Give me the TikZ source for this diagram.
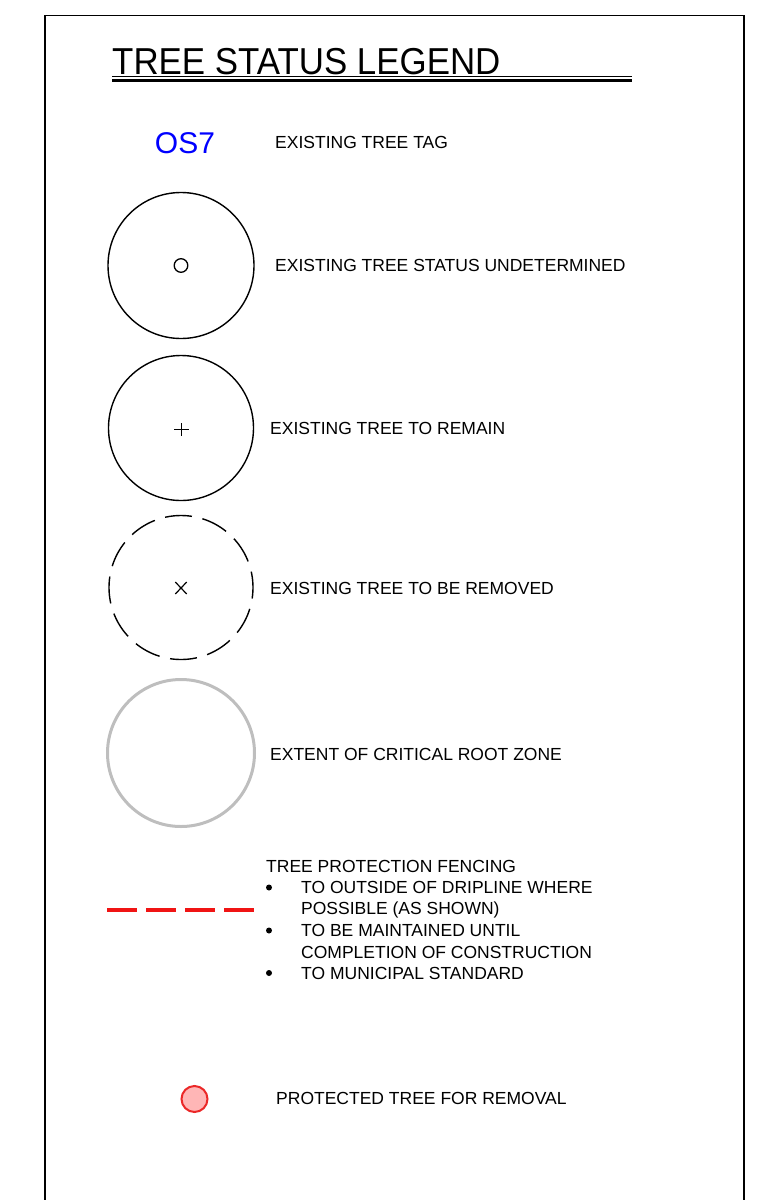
\documentclass[tikz,border=0pt]{standalone}
\usepackage{fontspec}
\setmainfont{Liberation Sans}
\definecolor{tagblue}{RGB}{0,0,255}
\definecolor{rootgray}{RGB}{190,190,190}
\definecolor{fencered}{RGB}{240,20,20}
\definecolor{pinkfill}{RGB}{255,182,182}
\definecolor{pinkedge}{RGB}{235,40,40}
\begin{document}
\begin{tikzpicture}[x=1pt,y=-1pt,
  lbl/.style={inner sep=0pt, anchor=base west, font=\fontsize{17.5}{21}\selectfont},
  treecircle/.style={draw=black, line width=1.4pt},
  frameline/.style={draw=black, line width=1.4pt},
  bulletdot/.style={fill=black, draw=none}]
\useasboundingbox (0,0) rectangle (762,1200);
% frame
\draw[frameline] (45,1200) -- (45,15.5) -- (744,15.5) -- (744,1200);
% title
\node[inner sep=0pt, anchor=base west, font=\fontsize{37.5}{40}\selectfont] (title) at (112,74) {\scalebox{0.93}[1]{TREE STATUS LEGEND}};
\draw[line width=0.9pt] (112,76.7) -- (632,76.7);
\draw[line width=3.4pt] (112,80.4) -- (632,80.4);
% tag
\node[inner sep=0pt, anchor=base, font=\fontsize{30}{32}\selectfont, text=tagblue] (os7) at (185,153.3) {OS7};
\node[lbl] (t1) at (275,148) {EXISTING TREE TAG};
% undetermined
\coordinate (c1) at (181,265.5);
\draw[treecircle] (c1) circle[radius=73];
\draw[line width=1.3pt] (c1) circle[radius=6.8];
\node[lbl] (t2) at (275,271) {EXISTING TREE STATUS UNDETERMINED};
% remain
\coordinate (c2) at (181,428);
\draw[treecircle] (c2) circle[radius=72.5];
\draw[line width=1.3pt] (174,429.5) -- (189,429.5) (181.5,423) -- (181.5,436);
\node[lbl] (t3) at (270,434) {EXISTING TREE TO REMAIN};
% removed
\coordinate (c3) at (181,587.5);
\draw[treecircle, dash pattern=on 27pt off 10.7pt, dash phase=16pt] (c3) circle[radius=72];
\draw[line width=1.2pt] (175.3,582) -- (186.7,594) (175.3,594) -- (186.7,582);
\node[lbl] (t4) at (270,594) {EXISTING TREE TO BE REMOVED};
% root zone
\coordinate (c4) at (181,753);
\draw[draw=rootgray, line width=3pt] (c4) circle[radius=73.5];
\node[lbl] (t5) at (270,760) {EXTENT OF CRITICAL ROOT ZONE};
% fencing
\draw[draw=fencered, line width=4pt, dash pattern=on 30pt off 9pt] (107,909.5) -- (254,909.5);
\node[lbl] (f0) at (266,872) {TREE PROTECTION FENCING};
\node[lbl] (f1) at (301,893) {TO OUTSIDE OF DRIPLINE WHERE};
\node[lbl] (f2) at (301,914) {POSSIBLE (AS SHOWN)};
\node[lbl] (f3) at (301,936) {TO BE MAINTAINED UNTIL};
\node[lbl] (f4) at (301,958) {COMPLETION OF CONSTRUCTION};
\node[lbl] (f5) at (301,979) {TO MUNICIPAL STANDARD};
\fill[bulletdot] (269,887.5) circle[radius=3];
\fill[bulletdot] (269,930.5) circle[radius=3];
\fill[bulletdot] (269,973) circle[radius=3];
% protected tree
\coordinate (c5) at (194.5,1099);
\draw[draw=pinkedge, fill=pinkfill, line width=2pt] (c5) circle[radius=13];
\node[lbl] (t6) at (276,1104) {PROTECTED TREE FOR REMOVAL};
\end{tikzpicture}
\end{document}
